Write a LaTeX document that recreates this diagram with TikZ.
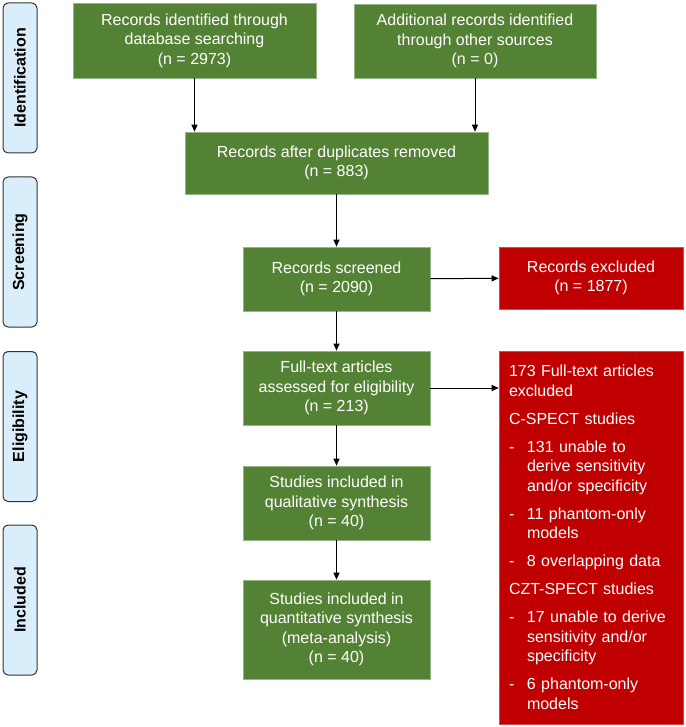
\documentclass[tikz,border=0pt]{standalone}
\usepackage{fontspec}
\setmainfont{Liberation Sans}
\usepackage{tikz}
\usetikzlibrary{arrows.meta}

\definecolor{prismagreen}{HTML}{548235}
\definecolor{prismared}{HTML}{C00000}
\definecolor{stageblue}{HTML}{D9EEFA}

\newcommand{\exdash}{\makebox[18pt][l]{-}}
\newcommand{\exindent}{\hspace*{18pt}}

\begin{document}
\begin{tikzpicture}[x=1pt, y=-1pt,
    greenbox/.style={rectangle, fill=prismagreen, draw=prismagreen!60!white, line width=.6pt,
      text=white, align=center, font=\fontsize{16}{19.5}\selectfont},
    redbox/.style={rectangle, fill=prismared, draw=prismared!70!white, line width=.6pt,
      text=white, font=\fontsize{16}{19.5}\selectfont},
    stagebox/.style={rectangle, rounded corners=5pt, fill=stageblue, draw=black!80,
      line width=1pt, rotate=90, minimum width=150, minimum height=34,
      font=\fontsize{16}{19.5}\selectfont\bfseries}]

        \useasboundingbox (0,0) rectangle (685,727);

        % stages
        \node[stagebox] (id)   at (20,78)    {Identification};
        \node[stagebox] (scr)  at (20,252)   {Screening};
        \node[stagebox] (elig) at (20,426.5) {Eligibility};
        \node[stagebox] (inc)  at (20,600)   {Included};

        % flow boxes
        \begin{scope}[every node/.style={greenbox}]
          \node[minimum width=243, minimum height=75] (1) at (194.5,40.5)
            {Records identified through\\database searching\\(n = 2973)};
          \node[minimum width=242, minimum height=74] (2) at (475,41)
            {Additional records identified\\through other sources\\(n = 0)};
          \node[minimum width=303, minimum height=62] (3) at (336.5,163)
            {Records after duplicates removed\\(n = 883)};
          \node[minimum width=187, minimum height=64] (4) at (336.5,279)
            {Records screened\\(n = 2090)};
          \node[minimum width=187, minimum height=74] (5) at (336.5,388)
            {Full-text articles\\assessed for eligibility\\(n = 213)};
          \node[minimum width=187, minimum height=74] (6) at (336.5,503)
            {Studies included in\\qualitative synthesis\\(n = 40)};
          \node[minimum width=187, minimum height=99] (7) at (336.5,629.5)
            {Studies included in\\quantitative synthesis\\(meta-analysis)\\(n = 40)};
        \end{scope}

        % excluded
        \node[redbox, minimum width=184, minimum height=62, align=center] (ex1) at (591,278)
          {Records excluded\\(n = 1877)};
        \node[redbox, minimum height=373, text width=164, inner xsep=10pt, align=left] (ex2) at (591,537.5)
          {173 Full-text articles\\excluded\\[8.5pt]
           C-SPECT studies\\[8.5pt]
           \exdash 131 unable to\\\exindent derive sensitivity\\\exindent and/or specificity\\[8.5pt]
           \exdash 11 phantom-only\\\exindent models\\[8.5pt]
           \exdash 8 overlapping data\\[8.5pt]
           CZT-SPECT studies\\[8.5pt]
           \exdash 17 unable to derive\\\exindent sensitivity and/or\\\exindent specificity\\[8.5pt]
           \exdash 6 phantom-only\\\exindent models};

        \begin{scope}[every edge/.style={draw, line width=1pt, -{Triangle[length=7pt,width=6pt]}}]
          \path (1)  edge (1 |- 3.north);
          \path (2)  edge (2 |- 3.north);
          \path (3)  edge (4);
          \path (4)  edge (ex1);
          \path (4)  edge (5);
          \path (5)  edge (5 -| ex2.west);
          \path (5)  edge (6);
          \path (6)  edge (7);
        \end{scope}
      \end{tikzpicture}
\end{document}
